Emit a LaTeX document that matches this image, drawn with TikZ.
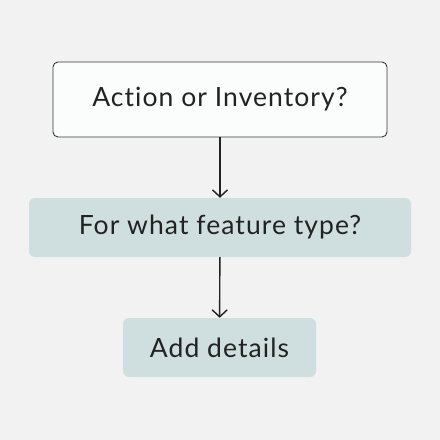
\documentclass[tikz,border=0pt]{standalone}
\usepackage{fontspec}
\setmainfont{Lato}[LetterSpace=4,Ligatures={NoCommon,NoRare}]
\usetikzlibrary{arrows.meta}

\definecolor{bgcol}{HTML}{F2F2F2}
\definecolor{stepfill}{HTML}{CFDFDF}
\definecolor{topfill}{HTML}{FBFDFD}
\definecolor{inkcol}{HTML}{222222}

\tikzset{
  question/.style={draw=inkcol!90,line width=0.9pt,fill=topfill,rounded corners=5pt,
    minimum width=334pt,minimum height=75pt,inner sep=0pt,text=inkcol,
    font=\fontsize{26.5}{30}\selectfont},
  stepbox/.style={fill=stepfill,rounded corners=6pt,inner sep=0pt,
    minimum height=59pt,text=inkcol,font=\fontsize{26.5}{30}\selectfont},
  link/.style={-{Straight Barb[length=7pt,width=15pt]},line width=1.4pt,draw=inkcol}
}

\begin{document}
\begin{tikzpicture}[x=1pt,y=-1pt]

% Fond
\fill[bgcol]
(0,0)
rectangle
(440,440);
\useasboundingbox
(0,0)
rectangle
(440,440);

% Question
\node[question] (choix) at (220,99.5)
{Action or Inventory?};

% Type
\node[stepbox,minimum width=382pt] (type) at (220,227.5)
{For what feature type?};

% Details
\node[stepbox,minimum width=193pt] (details) at (219.5,347.5)
{Add details};

% Liens
\draw[link]
(choix)
--
(type);

\draw[link]
(type)
--
(details);

\end{tikzpicture}
\end{document}
